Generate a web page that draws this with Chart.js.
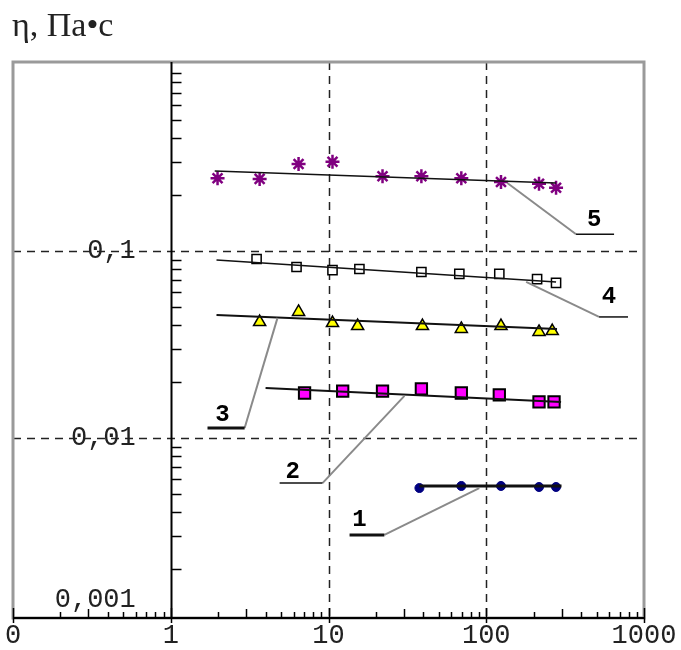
<!DOCTYPE html>
<html>
<head>
<meta charset="utf-8">
<script src="https://cdn.jsdelivr.net/npm/chart.js@4"></script>
<style>
  html, body { margin: 0; padding: 0; background: #fff; }
</style>
</head>
<body>
<canvas id="myChart" width="681" height="650"></canvas>
<script>
// shear rate (x) and viscosity (y)
const shear1 = [37.7, 69.5, 124, 216, 277];
const visc1 = [0.0054, 0.00554, 0.00554, 0.00547, 0.00547];
const shear2 = [7.05, 12.3, 22.0, 38.8, 69.5, 121, 216, 269];
const visc2 = [0.0174, 0.0178, 0.0178, 0.0183, 0.0174, 0.0170, 0.0156, 0.0156];
const shear3 = [3.66, 6.46, 10.6, 15.3, 39.4, 69.5, 124, 216, 262];
const visc3 = [0.0417, 0.0472, 0.0412, 0.0397, 0.0397, 0.0383, 0.0397, 0.0369, 0.0373];
const shear4 = [3.5, 6.27, 10.6, 15.7, 38.8, 67.5, 121, 210, 277];
const visc4 = [0.0906, 0.0821, 0.0791, 0.0801, 0.0772, 0.0754, 0.0754, 0.0708, 0.0675];
const shear5 = [1.98, 3.66, 6.46, 10.6, 22.0, 38.8, 69.5, 124, 216, 277];
const visc5 = [0.245, 0.243, 0.292, 0.30, 0.251, 0.251, 0.245, 0.234, 0.229, 0.218];

// fitted lines: [x start, x end], [y start, y end]
const fitX1 = [37.7, 300], fitY1 = [0.00554, 0.00554];
const fitX2 = [3.99, 298], fitY2 = [0.0185, 0.0156];
const fitX3 = [1.95, 281], fitY3 = [0.0455, 0.0383];
const fitX4 = [1.95, 277], fitY4 = [0.0895, 0.0683];
const fitX5 = [1.9, 277], fitY5 = [0.268, 0.231];

// callout leaders (curve -> elbow -> end)
const leadX1 = [90.3, 22.6, 13.6], leadY1 = [0.0054, 0.00303, 0.00303];
const leadX2 = [30.3, 9.16, 4.9], leadY2 = [0.0168, 0.00574, 0.00574];
const leadX3 = [4.75, 2.94, 1.71], leadY3 = [0.0439, 0.0113, 0.0113];
const leadX4 = [179, 519, 792], leadY4 = [0.0683, 0.0444, 0.0444];
const leadX5 = [136, 371, 646], leadY5 = [0.231, 0.123, 0.123];

const curveNames = ['1', '2', '3', '4', '5'];
const nameX = [15.7, 5.92, 2.13, 600, 483];
const nameY = [0.00364, 0.00658, 0.0133, 0.0568, 0.147];

const xTicks = [0.1, 1, 10, 100, 1000];
const xTickLabels = ['0', '1', '10', '100', '1000'];
const yTicks = [0.1, 0.01, 0.001];
const yTickLabels = ['0,1', '0,01', '0,001'];

function pts(xs, ys) {
    return xs.map((x, i) => ({ x: x, y: ys[i] }));
}

function fitLine(xs, ys, width) {
    return {
        data: pts(xs, ys),
        showLine: true,
        borderColor: '#111',
        borderWidth: width,
        pointRadius: 0,
    };
}

function leader(xs, ys, thick) {
    return {
        data: pts(xs, ys),
        showLine: true,
        borderWidth: 1.5,
        pointRadius: 0,
        segment: {
            borderColor: (c) => (c.p0DataIndex === 0 ? '#8a8a8a' : '#111'),
            borderWidth: (c) => (c.p0DataIndex === 0 ? 2 : thick),
        },
    };
}

const framePlugin = {
    id: 'frame',
    beforeDatasetsDraw(chart) {
        const { ctx, chartArea: a, scales } = chart;
        const xs = scales.x, ys = scales.y;
        ctx.save();
        // dashed grid
        ctx.strokeStyle = '#222';
        ctx.lineWidth = 1.5;
        ctx.setLineDash([8, 6]);
        [10, 100].forEach((v) => {
            const px = Math.round(xs.getPixelForValue(v)) + 0.5;
            ctx.beginPath();
            ctx.moveTo(px, a.top);
            ctx.lineTo(px, a.bottom);
            ctx.stroke();
        });
        [0.1, 0.01].forEach((v) => {
            const py = Math.round(ys.getPixelForValue(v)) + 0.5;
            ctx.beginPath();
            ctx.moveTo(a.left, py);
            ctx.lineTo(a.right, py);
            ctx.stroke();
        });
        ctx.setLineDash([]);

        // gray frame
        ctx.strokeStyle = '#9a9a9a';
        ctx.lineWidth = 3;
        ctx.strokeRect(a.left, a.top, a.right - a.left, a.bottom - a.top);

        // y axis at x = 1
        const x1 = Math.round(xs.getPixelForValue(1)) + 0.5;
        ctx.strokeStyle = '#000';
        ctx.lineWidth = 2;
        ctx.beginPath();
        ctx.moveTo(x1, a.top);
        ctx.lineTo(x1, a.bottom);
        ctx.stroke();
        ctx.lineWidth = 1.5;
        [0.001, 0.01, 0.1].forEach((d) => {
            for (let k = 2; k <= 9; k++) {
                const v = k * d;
                if (v < ys.min || v > ys.max) continue;
                const py = Math.round(ys.getPixelForValue(v)) + 0.5;
                ctx.beginPath();
                ctx.moveTo(x1, py);
                ctx.lineTo(x1 + 10, py);
                ctx.stroke();
            }
        });

        // x axis along the bottom
        ctx.lineWidth = 2;
        ctx.beginPath();
        ctx.moveTo(a.left, a.bottom);
        ctx.lineTo(a.right, a.bottom);
        ctx.stroke();
        ctx.lineWidth = 1.5;
        [0.1, 1, 10, 100].forEach((d) => {
            for (let k = 2; k <= 9; k++) {
                const px = Math.round(xs.getPixelForValue(k * d)) + 0.5;
                ctx.beginPath();
                ctx.moveTo(px, a.bottom);
                ctx.lineTo(px, a.bottom - (k === 3 ? 9 : 6));
                ctx.stroke();
            }
        });
        xTicks.forEach((v) => {
            const px = Math.round(xs.getPixelForValue(v)) + 0.5;
            ctx.beginPath();
            ctx.moveTo(px, a.bottom - 10);
            ctx.lineTo(px, a.bottom + 5);
            ctx.stroke();
        });
        ctx.restore();
    },
    afterDatasetsDraw(chart) {
        const { ctx, chartArea: a, scales } = chart;
        const xs = scales.x, ys = scales.y;
        ctx.save();
        ctx.fillStyle = '#222';
        ctx.font = '27px "Liberation Mono", "DejaVu Sans Mono", monospace';
        ctx.textAlign = 'center';
        ctx.textBaseline = 'top';
        xTicks.forEach((v, i) => {
            ctx.fillText(xTickLabels[i], xs.getPixelForValue(v), a.bottom + 4);
        });
        ctx.textAlign = 'right';
        ctx.textBaseline = 'middle';
        const x1 = xs.getPixelForValue(1);
        yTicks.forEach((v, i) => {
            let py = ys.getPixelForValue(v);
            if (py > a.bottom) py = a.bottom - 18;
            ctx.fillText(yTickLabels[i], x1 - 35, py);
        });

        // curve numbers
        ctx.font = 'bold 24px "Liberation Mono", monospace';
        ctx.textAlign = 'center';
        ctx.fillStyle = '#000';
        curveNames.forEach((n, i) => {
            ctx.fillText(n, xs.getPixelForValue(nameX[i]), ys.getPixelForValue(nameY[i]));
        });

        // axis title
        ctx.font = '34px "Liberation Serif", serif';
        ctx.textAlign = 'left';
        ctx.textBaseline = 'alphabetic';
        ctx.fillStyle = '#222';
        ctx.fillText('η, Па•с', 12, 36);
        ctx.restore();
    },
};

const ctx = document.getElementById('myChart').getContext('2d');
const myChart = new Chart(ctx, {
    type: 'scatter',
    data: {
        datasets: [
            leader(leadX1, leadY1, 3),
            leader(leadX2, leadY2, 1.5),
            leader(leadX3, leadY3, 3),
            leader(leadX4, leadY4, 1.5),
            leader(leadX5, leadY5, 1.5),
            fitLine(fitX1, fitY1, 3),
            fitLine(fitX2, fitY2, 2),
            fitLine(fitX3, fitY3, 2),
            fitLine(fitX4, fitY4, 1.5),
            fitLine(fitX5, fitY5, 1.5),
            {
                data: pts(shear1, visc1),
                pointStyle: 'circle',
                pointRadius: 4.5,
                backgroundColor: '#000080',
                borderColor: '#000080',
                borderWidth: 1,
            },
            {
                data: pts(shear2, visc2),
                pointStyle: 'rect',
                pointRadius: 8,
                backgroundColor: '#ff00ff',
                borderColor: '#000',
                borderWidth: 2,
            },
            {
                data: pts(shear3, visc3),
                pointStyle: 'triangle',
                pointRadius: 7,
                backgroundColor: '#ffff00',
                borderColor: '#000',
                borderWidth: 1.5,
            },
            {
                data: pts(shear4, visc4),
                pointStyle: 'rect',
                pointRadius: 6.5,
                backgroundColor: '#fff',
                borderColor: '#000',
                borderWidth: 1.5,
            },
            {
                data: pts(shear5, visc5),
                pointStyle: 'star',
                pointRadius: 7,
                backgroundColor: '#800080',
                borderColor: '#800080',
                borderWidth: 2.5,
            },
        ],
    },
    options: {
        responsive: false,
        animation: false,
        layout: { padding: { left: 13, right: 37, top: 62, bottom: 32 } },
        scales: {
            x: { type: 'logarithmic', min: 0.1, max: 1000, display: false },
            y: { type: 'logarithmic', min: 0.00109, max: 1.025, display: false },
        },
        plugins: {
            legend: { display: false },
            tooltip: { enabled: false },
        },
    },
    plugins: [framePlugin],
});
</script>
</body>
</html>
